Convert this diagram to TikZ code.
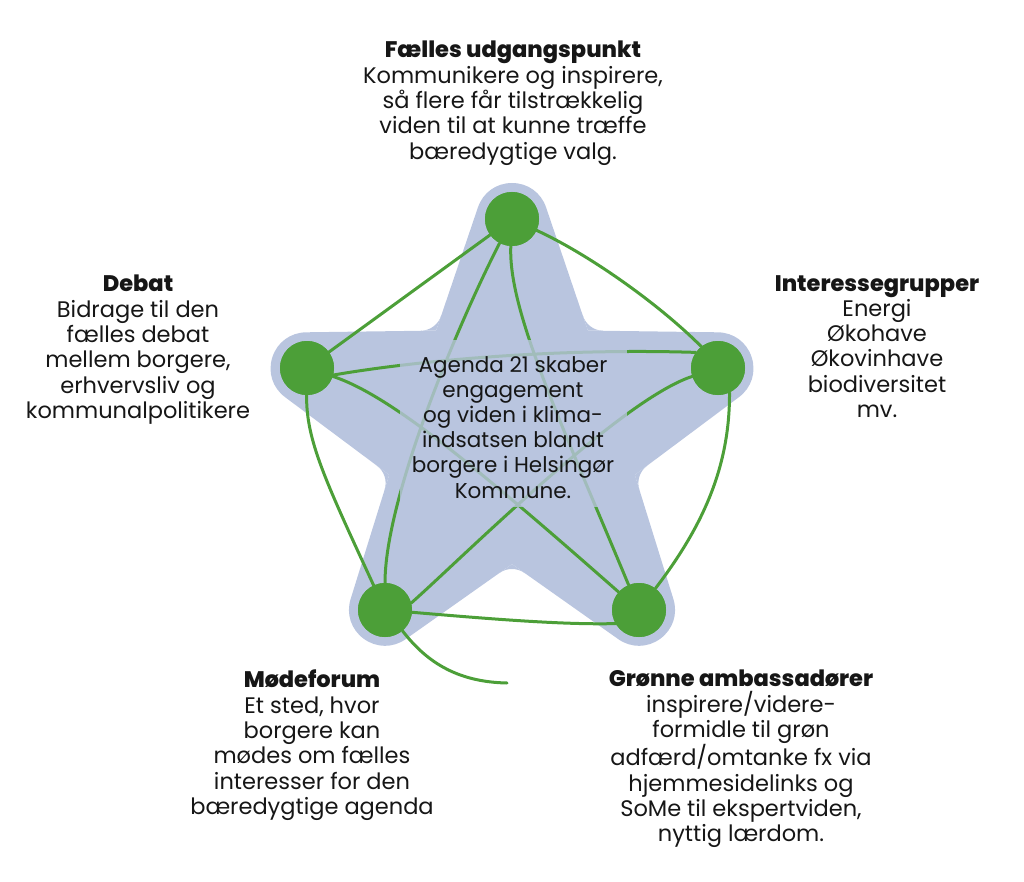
\documentclass[tikz,border=0pt]{standalone}
\usepackage{fontspec}
\setmainfont{Poppins}
\newfontfamily\headfont{Poppins ExtraBold}
\usetikzlibrary{calc}
\definecolor{starblue}{HTML}{B9C5DF}
\definecolor{dotgreen}{HTML}{4C9F38}
\definecolor{ink}{HTML}{161616}
\begin{document}
\begin{tikzpicture}[x=1pt,y=-1pt,
  dot/.style={circle, fill=dotgreen, minimum size=54pt, inner sep=0pt},
  link/.style={draw=dotgreen, line width=3pt, line cap=round},
  txt/.style={align=center, text=ink, inner sep=0pt, anchor=north, font=\fontsize{22.5}{25.3}\selectfont},
  ctxt/.style={txt, font=\fontsize{21.5}{25.2}\selectfont},
  palebox/.style={fill=starblue, fill opacity=0.78, minimum width=227pt, minimum height=167pt, inner sep=0pt}]
\useasboundingbox (0,0) rectangle (1024,882);
% star
\coordinate (oT) at (512,219);
\coordinate (oR) at (717.4,368.3);
\coordinate (oBR) at (639.0,609.7);
\coordinate (oBL) at (385.0,609.7);
\coordinate (oL) at (306.6,368.3);
\coordinate (i1) at (561.96,366.23);
\coordinate (i2) at (592.84,461.27);
\coordinate (i3) at (512,520);
\coordinate (i4) at (431.16,461.27);
\coordinate (i5) at (462.04,366.23);
\draw[starblue, fill=starblue, line width=72pt, line join=round]
  (oT) -- (i1) -- (oR) -- (i2) -- (oBR) -- (i3) -- (oBL) -- (i4) -- (oL) -- (i5) -- cycle;
\foreach \k in {0,1,2,3,4}{
  \fill[starblue, rotate around={72*\k:(512,435)}]
    (587.88,330.56) -- (582.9,315.9) .. controls (585.9,324.7) and (594.1,330.7) .. (603.4,330.8) -- cycle;
}
% nodes
\node[dot] (T) at (512,219) {};
\node[dot] (R) at (718,368) {};
\node[dot] (BR) at (639,610) {};
\node[dot] (BL) at (385,610) {};
\node[dot] (L) at (307,368) {};
\coordinate (tail) at (507,683);
% links
\draw[link] (T) -- (L);
\draw[link] (T) .. controls (590,255) and (660,305) .. (R.128);
\draw[link] (T) .. controls (455,330) and (385,500) .. (BL);
\draw[link] (T) .. controls (508,310) and (560,420) .. (BR);
\draw[link] (L.-15) .. controls (420,360) and (560,348) .. (R.145);
\draw[link] (L) .. controls (390,395) and (480,470) .. (BR);
\draw[link] (L) .. controls (306,440) and (325,480) .. (BL);
\draw[link] (R) .. controls (620,400) and (460,560) .. (BL.15);
\draw[link] (R.-65) .. controls (730,470) and (700,530) .. (BR);
\draw[link] (BL) .. controls (480,618) and (560,625) .. (BR.-150);
\draw[link] (BL.-50) .. controls (425,660) and (455,682) .. (tail);
% pale box behind the centre text
\node[palebox] (cbox) at (513.5,423.5) {};
% redraw dots on top
\node[dot] at (T) {};
\node[dot] at (R) {};
\node[dot] at (BR) {};
\node[dot] at (BL) {};
\node[dot] at (L) {};
% texts
\node[ctxt] (ctext) at (513,356) {Agenda 21 skaber\\engagement\\og viden i klima-\\indsatsen blandt\\borgere i Helsingør\\Kommune.};
\node[txt] (ttop) at (513,41) {{\headfont Fælles udgangspunkt}\\Kommunikere og inspirere,\\så flere får tilstrækkelig\\viden til at kunne træffe\\bæredygtige valg.};
\node[txt] (tleft) at (138,275) {{\headfont Debat}\\Bidrage til den\\fælles debat\\mellem borgere,\\erhvervsliv og\\kommunalpolitikere};
\node[txt] (tright) at (877,275) {{\headfont Interessegrupper}\\Energi\\Økohave\\Økovinhave\\biodiversitet\\mv.};
\node[txt] (tbl) at (312,670) {{\headfont Mødeforum}\\Et sted, hvor\\borgere kan\\mødes om fælles\\interesser for den\\bæredygtige agenda};
\node[txt] (tbr) at (741,670) {{\headfont Grønne ambassadører}\\inspirere/videre-\\formidle til grøn\\adfærd/omtanke fx via\\hjemmesidelinks og\\SoMe til ekspertviden,\\nyttig lærdom.};
\end{tikzpicture}
\end{document}
